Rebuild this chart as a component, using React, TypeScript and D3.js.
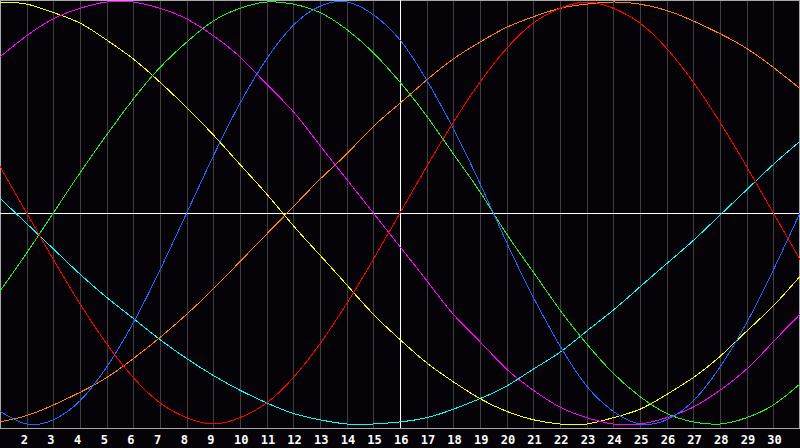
import { useEffect, useRef } from "react";
import * as d3 from "d3";

// days on the x axis (1..31), labels drawn for 2..30
const days = d3.range(1, 32);
const labelDays = d3.range(2, 31);
const today = 16;

// cycle values per day, -100..100
const red = [22, 0, -22, -43, -62, -78, -90, -97, -100, -97, -90, -78, -62, -43, -22, 0, 22, 43, 62, 78, 90, 97, 100, 97, 90, 78, 62, 43, 22, 0, -22];
const blue = [-94, -100, -98, -89, -73, -52, -27, 0, 27, 52, 73, 89, 98, 100, 94, 82, 63, 40, 14, -14, -40, -63, -82, -94, -100, -98, -89, -73, -52, -27, 0];
const green = [-37, -19, 0, 19, 37, 54, 69, 81, 91, 97, 100, 99, 95, 87, 76, 62, 46, 28, 10, -10, -28, -46, -62, -76, -87, -95, -99, -100, -97, -91, -81];
const magenta = [74, 84, 92, 97, 100, 100, 97, 92, 84, 74, 61, 48, 32, 16, 0, -16, -32, -48, -61, -74, -84, -92, -97, -100, -100, -97, -92, -84, -74, -61, -48];
const yellow = [100, 99, 95, 90, 82, 73, 62, 50, 37, 23, 9, -6, -20, -34, -48, -60, -71, -80, -88, -94, -98, -100, -100, -97, -93, -86, -78, -68, -56, -44, -30];
const orange = [-99, -96, -91, -85, -78, -69, -59, -48, -36, -23, -10, 3, 16, 28, 41, 52, 63, 73, 81, 88, 93, 97, 99, 100, 99, 96, 91, 85, 78, 69, 59];
const cyan = [7, -5, -17, -29, -40, -50, -60, -69, -77, -84, -90, -95, -98, -100, -100, -99, -97, -93, -88, -82, -74, -66, -56, -46, -35, -24, -13, -1, 11, 23, 34];

const series = [
  { name: "cyan", color: "#00ffff", values: cyan },
  { name: "orange", color: "#ff8000", values: orange },
  { name: "yellow", color: "#ffff00", values: yellow },
  { name: "magenta", color: "#ff00ff", values: magenta },
  { name: "green", color: "#22ee22", values: green },
  { name: "blue", color: "#1a6aff", values: blue },
  { name: "red", color: "#ff0000", values: red },
];

const App = () => {
  const svgRef = useRef<SVGSVGElement | null>(null);

  useEffect(() => {
    const width = 800;
    const height = 448;
    const plotBottom = 428;

    const svg = d3.select(svgRef.current);
    svg.selectAll("*").remove();

    const x = d3.scaleLinear().domain([1, 31]).range([0, width]);
    const y = d3.scaleLinear().domain([-100, 100]).range([424, 2]);

    // background
    svg
      .append("rect")
      .attr("width", width)
      .attr("height", height)
      .attr("fill", "#050308");

    // day grid
    svg
      .append("g")
      .selectAll("line")
      .data(labelDays)
      .enter()
      .append("line")
      .attr("x1", (d) => Math.round(x(d)) + 0.5)
      .attr("x2", (d) => Math.round(x(d)) + 0.5)
      .attr("y1", 0)
      .attr("y2", plotBottom)
      .attr("stroke", "#404040")
      .attr("stroke-width", 1);

    // frame
    svg
      .append("rect")
      .attr("x", 0.5)
      .attr("y", 0.5)
      .attr("width", width - 1)
      .attr("height", plotBottom)
      .attr("fill", "none")
      .attr("stroke", "#a8a8a8")
      .attr("stroke-width", 1);

    // zero line and today marker
    svg
      .append("line")
      .attr("x1", 0)
      .attr("x2", width)
      .attr("y1", Math.round(y(0)) + 0.5)
      .attr("y2", Math.round(y(0)) + 0.5)
      .attr("stroke", "#ffffff");
    svg
      .append("line")
      .attr("x1", Math.round(x(today)) + 0.5)
      .attr("x2", Math.round(x(today)) + 0.5)
      .attr("y1", 0)
      .attr("y2", plotBottom)
      .attr("stroke", "#ffffff");

    // cycles
    const line = d3
      .line<number>()
      .x((_, i) => x(days[i]))
      .y((v) => y(v))
      .curve(d3.curveNatural);

    svg
      .append("g")
      .selectAll("path")
      .data(series)
      .enter()
      .append("path")
      .attr("d", (s) => line(s.values))
      .attr("fill", "none")
      .attr("stroke", (s) => s.color)
      .attr("stroke-width", 1)
      .attr("shape-rendering", "crispEdges");

    // day labels
    svg
      .append("g")
      .selectAll("text")
      .data(labelDays)
      .enter()
      .append("text")
      .attr("x", (d) => x(d) - 6)
      .attr("y", 443.5)
      .attr("fill", "#ffffff")
      .attr("font-family", "'DejaVu Sans Mono', monospace")
      .attr("font-weight", "bold")
      .attr("font-size", 12)
      .text((d) => d);
  }, []);

  return (
    <svg
      ref={svgRef}
      width={800}
      height={448}
      style={{ position: "absolute", left: 0, top: 0, display: "block" }}
    ></svg>
  );
};

export default App;
